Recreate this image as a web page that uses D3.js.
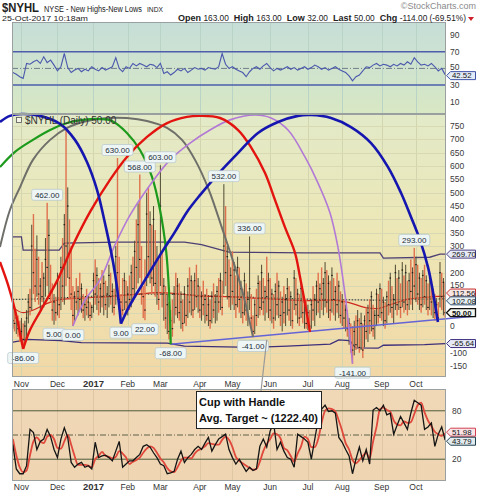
<!DOCTYPE html>
<html><head><meta charset="utf-8">
<script src="https://cdn.jsdelivr.net/npm/d3@7/dist/d3.min.js"></script>
<style>html,body{margin:0;padding:0;background:#fff;}svg{display:block;}</style>
</head><body>
<svg id="chart" width="478" height="493" font-family="'Liberation Sans', Arial, sans-serif"></svg>
<script>
// ================= DATA =================
const startDate = "2016-10-25", endDate = "2017-10-25";
const holidays = ["2016-11-24","2016-12-26","2017-01-02","2017-01-16","2017-02-20","2017-04-14","2017-05-29","2017-07-04","2017-09-04"];
const monthNames = ["Jan","Feb","Mar","Apr","May","Jun","Jul","Aug","Sep","Oct","Nov","Dec"];

const high = [
80,60,50,40,20,30,10,20,60,120,
140,380,420,290,340,260,180,240,200,330,
462,400,230,160,120,110,200,170,260,330,
420,740,520,400,300,150,130,180,150,200,
160,120,100,140,110,90,80,200,250,220,
180,160,210,190,170,150,230,200,160,140,
300,630,260,120,180,200,170,150,190,230,
260,320,400,460,568,300,150,250,500,520,
430,380,450,360,300,250,603,280,180,150,
120,90,60,100,150,200,180,160,130,100,
150,120,180,220,190,170,200,230,180,150,
130,170,120,140,110,100,130,160,120,150,
180,200,170,532,450,300,250,220,280,240,
190,260,220,170,140,200,160,130,336,120,
40,100,140,190,170,230,180,150,260,200,
180,140,120,160,200,170,130,110,150,120,
180,150,130,100,210,180,140,120,160,130,
110,100,80,60,100,150,120,170,200,160,
220,180,240,210,190,170,220,180,150,200,
170,130,120,100,80,60,30,10,0,20,
40,60,30,50,10,40,70,80,100,130,
80,60,140,120,160,140,110,90,130,170,
200,150,120,230,180,210,160,240,190,230,
170,200,250,220,293,260,230,200,180,210,
230,190,160,200,170,140,120,100,90,240,
200,180,163];
const low = [
-10,-20,-30,-40,-60,-70,-86,-60,-50,10,
40,60,120,90,110,80,60,90,70,110,
150,120,90,20,5,20,40,30,60,90,
80,150,180,100,60,0,20,60,40,60,
50,30,20,40,30,20,30,50,80,60,
40,50,70,40,60,30,70,80,50,40,
80,100,60,9,40,60,50,40,60,70,
90,110,140,160,180,80,30,22,150,180,
160,120,150,110,80,60,150,70,20,-10,
-30,-50,-68,-40,10,40,30,20,-10,-20,
10,0,30,50,40,30,60,70,50,30,
20,40,10,20,0,-10,10,30,10,20,
50,60,40,120,150,100,70,60,80,60,
30,70,50,30,10,40,20,0,60,-10,
-41,-30,0,30,40,60,40,20,50,30,
20,10,-10,20,40,30,0,-20,10,0,
40,20,0,-10,60,40,10,0,30,10,
-10,-10,-15,-22,-10,20,0,40,50,30,
60,40,70,50,30,20,50,40,20,50,
30,10,0,-10,-20,-40,-70,-100,-141,-110,
-90,-80,-100,-90,-120,-80,-50,-60,-30,-20,
-40,-50,0,10,30,20,0,-10,10,40,
50,30,10,60,40,60,30,70,50,60,
40,60,80,60,100,90,80,60,50,70,
80,60,40,60,40,30,20,25,20,70,
60,40,32];
const close = [
20,10,30,-10,-30,-20,-50,0,30,90,
70,300,200,150,250,120,150,110,180,250,
220,340,130,60,90,50,170,80,220,150,
380,300,450,180,120,40,110,90,130,100,
140,60,80,70,90,40,70,170,120,190,
90,140,110,160,80,120,190,110,130,70,
260,200,100,90,60,170,90,120,100,200,
140,280,220,380,250,120,110,60,420,260,
380,180,400,160,250,100,450,120,150,30,
80,-20,20,-10,120,70,150,50,90,10,
120,40,150,90,170,60,170,110,150,60,
110,80,100,40,80,20,110,60,90,130,
90,170,70,300,200,260,110,190,130,210,
80,220,100,140,50,170,60,100,140,30,
-20,80,40,160,70,200,90,130,110,170,
60,120,30,130,80,150,40,90,50,100,
140,60,110,20,180,80,120,30,140,50,
90,10,50,0,80,60,100,150,90,140,
120,160,200,90,160,60,190,100,130,80,
150,40,90,30,60,-10,10,-60,-90,-20,
-70,20,-80,10,-90,20,-20,50,20,110,
-10,40,120,40,140,50,90,20,110,80,
180,70,100,200,80,180,70,210,90,200,
80,170,130,200,150,230,120,180,80,190,
110,170,70,180,90,120,50,80,30,200,
110,164,50];
const lastOpen = 163;

// indicator values, one every second trading day
const rsi14 = [
45,43,40,38,56,55,58,60,56,64,
57,60,54,47,52,68,51,45,48,50,
46,49,47,52,49,47,51,48,50,52,
63,50,46,52,50,56,53,56,54,52,
55,54,51,56,44,46,42,45,49,47,
50,45,48,51,49,50,48,51,50,49,
52,68,55,50,52,49,47,45,40,46,
50,52,49,53,56,51,47,50,48,50,
52,49,51,48,50,52,49,51,54,52,
49,51,48,50,52,49,47,45,41,35,
40,42,47,52,51,54,56,53,55,54,
52,55,53,56,54,58,55,63,58,54,
55,53,56,52,47,50,42.52];
const stochK = [
38,8,2,2,12,57,53,32,42,45,
57,48,32,22,45,59,47,16,10,14,
16,10,12,8,41,22,24,25,22,18,
30,42,10,14,18,18,22,26,36,38,
35,28,22,14,12,2,3,5,20,30,
16,22,26,32,36,32,40,47,30,38,
45,48,51,32,22,14,20,12,5,10,
6,8,36,45,35,55,65,32,41,30,
22,20,10,51,48,45,41,20,45,69,
82,87,79,80,77,47,41,32,24,2,
20,35,18,32,14,81,84,80,87,75,
77,51,62,73,65,57,77,93,90,87,
57,60,65,36,51,60,43.79];
const stochD = [
45,25,10,4,6,25,42,47,42,40,
48,50,45,34,33,42,50,38,24,13,
13,13,12,10,20,24,29,24,23,21,
23,30,27,22,14,17,19,22,28,33,
36,34,28,21,16,9,5,4,10,18,
22,22,21,27,31,33,36,40,39,38,
38,44,48,44,35,23,18,15,12,9,
7,8,17,30,39,45,52,51,46,34,
31,24,17,27,36,48,45,35,35,45,
65,80,83,82,79,68,55,40,32,19,
15,19,24,28,21,42,60,82,84,81,
79,68,63,62,67,65,66,76,87,90,
78,68,61,54,51,49,51.98];

// overlays: [trading-day index, value]
const maRed = [[0,70],[6,50],[12,60],[20,85],[28,100],[40,105],[55,110],[70,118],[85,125],[95,122],[110,112],[125,110],[140,105],[155,100],[170,95],[185,97],[195,90],[205,70],[212,65],[220,80],[230,100],[240,108],[252,112.56]];
const maDotted = [[0,100],[20,103],[40,110],[60,115],[80,120],[100,118],[120,112],[140,108],[160,103],[180,100],[200,98],[215,97],[230,100],[252,102.08]];
const bandUpper = [[0,334],[5,334],[6,285],[27,285],[30,311],[60,315],[100,315],[110,305],[126,277],[170,274],[214,274],[216,255],[243,258],[249,270],[252,269.70]];
const bandLower = [[0,-60],[5,-55],[8,-50],[28,-55],[40,-62],[90,-64],[100,-75],[140,-80],[160,-75],[185,-68],[190,-52],[196,-55],[200,-82],[213,-83],[216,-72],[240,-70],[252,-65.64]];
const trendLine = [[92,-68],[270,38]];

// hand-drawn cycle arcs
const arcBlue1 = [[-7.5,765],[-1.7,788],[5.3,795],[15.8,788],[27.5,758],[36.2,698],[43.2,615],[49.1,510],[54.3,368],[58.4,240],[60.7,146],[63,9]];
const arcGreen = [[-7.5,596],[1.25,653],[11.7,698],[21.7,735],[31.6,761],[40.9,773],[50.8,776],[57.8,769],[66.5,724],[74.1,660],[81.1,559],[85.8,435],[89.3,285],[91,135],[92,-68]];
const arcGray = [[-7.5,296],[-1.7,435],[4.2,521],[11.7,623],[21.7,698],[31.6,743],[43.2,769],[54.9,780],[66.5,780],[78.2,769],[89.9,743],[98.6,698],[106.2,623],[114.3,510],[121.9,368],[127.8,255],[133.6,135],[140,-41]];
const arcRed1 = [[-7.5,240],[-2.8,154],[1.25,60],[6,-86]];
const arcRed2 = [[6,-86],[10,-15],[16.4,60],[26.3,176],[35.1,304],[45,428],[56.6,548],[66.5,634],[78.2,709],[89.9,761],[101.5,784],[109.1,788],[120.8,780],[131.3,735],[138.8,671],[147,574],[152.8,473],[158.6,371],[164.5,274],[167.4,184],[170.3,86],[173.2,-22]];
const arcViolet = [[35,0],[42.1,98],[50.8,173],[59.5,304],[68.3,416],[80,529],[91.6,623],[103.3,686],[114.9,735],[126.6,773],[141.1,791],[150.5,780],[160.4,735],[170.3,634],[177.9,536],[184.9,424],[189.5,296],[192.5,173],[195.4,23],[198,-141]];
const arcBlue2 = [[63,9],[68.3,79],[75.9,161],[85.8,266],[94.5,353],[101.5,428],[109.1,491],[120.8,578],[131.3,649],[142.9,724],[154.6,765],[166.2,788],[173.8,791],[185.5,780],[197.1,746],[208.8,686],[218.7,596],[226.3,499],[232.1,409],[237.3,323],[242,221],[244.9,128],[247.8,15]];

// annotated highs/lows: [index, "h" | "l"]
const peakLabels = [[6,"l"],[20,"h"],[24,"l"],[35,"l"],[61,"h"],[63,"l"],[74,"h"],[77,"l"],[86,"h"],[92,"l"],[123,"h"],[138,"h"],[140,"l"],[198,"l"],[234,"h"]];
const noteIndex = 148, noteValue = -52;
const noteLines = ["Cup with Handle", "Avg. Target ~ (1222.40)"];

const mainTicks = [750,700,650,600,550,500,450,400,350,300,250,200,150,100,50,0,-50,-100,-150];
const rsiTicks = [90,70,50,30,10];
const stochTicks = [80,20];

// ================= BUILD =================
const days = [];
for (let d = new Date(startDate + "T00:00:00Z"); d <= new Date(endDate + "T00:00:00Z"); d.setUTCDate(d.getUTCDate() + 1)) {
  const w = d.getUTCDay(), s = d.toISOString().slice(0, 10);
  if (w > 0 && w < 6 && !holidays.includes(s)) days.push(s);
}
const N = days.length;
const monthStarts = [];
days.forEach((s, i) => { if (i > 0 && s.slice(5, 7) !== days[i - 1].slice(5, 7)) monthStarts.push(i); });

const svg = d3.select("#chart");
const X0 = 12, X1 = 446;
const x = d3.scaleLinear().domain([-0.5, N - 0.5]).range([X0, X1]);
const P1 = {t: 22, b: 114}, P2 = {t: 114, b: 377}, P3 = {t: 389, b: 481};
const yR = d3.scaleLinear().domain([-5, 106]).range([P1.b, P1.t]);
const yM = d3.scaleLinear().domain([-191, 795]).range([P2.b, P2.t]);
const yS = d3.scaleLinear().domain([-7, 107]).range([P3.b, P3.t]);

const defs = svg.append("defs");
function grad(id, stops) {
  const g = defs.append("linearGradient").attr("id", id).attr("x1", 0).attr("y1", 0).attr("x2", 0).attr("y2", 1);
  stops.forEach(s => g.append("stop").attr("offset", s[0]).attr("stop-color", s[1]));
}
grad("gR", [[0, "#c6ded8"], [1, "#d8e8c4"]]);
grad("gM", [[0, "#e2eac8"], [0.45, "#ede7b6"], [1, "#f2d7a6"]]);
grad("gS", [[0, "#f0d7b6"], [1, "#efd5b2"]]);

[[P1, "url(#gR)"], [P2, "url(#gM)"], [P3, "url(#gS)"]].forEach(([p, f]) => {
  svg.append("rect").attr("x", X0).attr("y", p.t).attr("width", X1 - X0).attr("height", p.b - p.t).attr("fill", f);
});

// grid
const vg = svg.append("g");
monthStarts.forEach(i => {
  const xx = Math.round(x(i)) + 0.5;
  vg.append("line").attr("x1", xx).attr("x2", xx).attr("y1", P1.t).attr("y2", P1.b).attr("stroke", "#b9d3c6");
  vg.append("line").attr("x1", xx).attr("x2", xx).attr("y1", P2.t).attr("y2", P2.b).attr("stroke", "#d3d5ae");
  vg.append("line").attr("x1", xx).attr("x2", xx).attr("y1", P3.t).attr("y2", P3.b).attr("stroke", "#dfc7a4");
});
mainTicks.forEach(v => {
  const yy = Math.round(yM(v)) + 0.5;
  vg.append("line").attr("x1", X0).attr("x2", X1).attr("y1", yy).attr("y2", yy).attr("stroke", "#d8d9b2");
});

// ---------- RSI panel ----------
[70, 30].forEach(v => svg.append("line").attr("x1", X0).attr("x2", X1).attr("y1", yR(v)).attr("y2", yR(v)).attr("stroke", "#4d5cab").attr("stroke-width", 1.5));
svg.append("line").attr("x1", X0).attr("x2", X1).attr("y1", yR(50)).attr("y2", yR(50)).attr("stroke", "#5a6478").attr("stroke-width", 0.8).attr("stroke-dasharray", "6,2,1,2");
svg.append("path").datum(rsi14).attr("fill", "none").attr("stroke", "#4a58ad").attr("stroke-width", 1.1)
  .attr("d", d3.line().x((d, k) => x(2 * k)).y(d => yR(d)));

// ---------- Main panel ----------
const lineIV = d3.line().x(d => x(d[0])).y(d => yM(d[1]));
svg.append("path").datum(bandUpper).attr("fill", "none").attr("stroke", "#4c3f73").attr("stroke-width", 1.3).attr("d", lineIV);
svg.append("path").datum(bandLower).attr("fill", "none").attr("stroke", "#3d2f7a").attr("stroke-width", 1.3).attr("d", lineIV);
const lineSmooth = d3.line().x(d => x(d[0])).y(d => yM(d[1])).curve(d3.curveMonotoneX);
svg.append("path").datum(maDotted).attr("fill", "none").attr("stroke", "#222").attr("stroke-width", 1).attr("stroke-dasharray", "1.5,1.5").attr("d", lineSmooth);
svg.append("path").datum(maRed).attr("fill", "none").attr("stroke", "#cc2a1e").attr("stroke-width", 1.2).attr("d", lineSmooth);

// bars
const bars = svg.append("g");
for (let i = 0; i < N; i++) {
  const up = i > 0 ? close[i] >= close[i - 1] : true;
  const yh = yM(high[i]), yl = yM(low[i]);
  const h = Math.max(1, yl - yh);
  if (up) {
    bars.append("rect").attr("x", x(i) - 0.5).attr("width", 1).attr("y", yh).attr("height", h).attr("fill", "#4f4b33");
  } else {
    bars.append("rect").attr("x", x(i) - 0.7).attr("width", 1.4).attr("y", yh).attr("height", h).attr("fill", "#e0714e");
  }
  bars.append("rect").attr("x", x(i) - 0.8).attr("width", 1.6).attr("y", yM(close[i]) - 0.5).attr("height", 1).attr("fill", "#111");
}

// trend line
svg.append("path").datum(trendLine).attr("fill", "none").attr("stroke", "#6464d6").attr("stroke-width", 1.5).attr("d", lineIV);

// arcs
const arcLine = d3.line().x(d => x(d[0])).y(d => yM(d[1])).curve(d3.curveCatmullRom.alpha(0.5));
[[arcGray, "#6f6f6a", 2], [arcGreen, "#1c9a1c", 2.2], [arcViolet, "#b27ad6", 1.6], [arcRed1, "#e3140f", 2.4], [arcRed2, "#e3140f", 2.4], [arcBlue1, "#1515b0", 2.6], [arcBlue2, "#1515b0", 2.6]]
  .forEach(([pts, c, w]) => svg.append("path").datum(pts).attr("fill", "none").attr("stroke", c).attr("stroke-width", w).attr("d", arcLine));

// peak labels
const lab = svg.append("g").attr("font-size", 8).attr("fill", "#1d2d3a");
peakLabels.forEach(([i, t]) => {
  const v = t === "h" ? high[i] : low[i];
  const txt = v.toFixed(2);
  const cy = t === "h" ? yM(v) - 8 : yM(v) + 9;
  const w = txt.length * 4.5 + 4;
  lab.append("rect").attr("x", x(i) - w / 2).attr("y", cy - 5.5).attr("width", w).attr("height", 11).attr("rx", 2)
    .attr("fill", "#eef5f5").attr("stroke", "#b4c6cc").attr("stroke-width", 0.7);
  lab.append("text").attr("x", x(i)).attr("y", cy + 3).attr("text-anchor", "middle").text(txt);
});

// legend
svg.append("rect").attr("x", 16.5).attr("y", 117.5).attr("width", 5).attr("height", 5).attr("fill", "#f4f4e8").attr("stroke", "#555").attr("stroke-width", 0.8);
svg.append("text").attr("x", 25).attr("y", 124).attr("font-size", 10).attr("fill", "#333").text("$NYHL (Daily) " + close[N - 1].toFixed(2));

// ---------- Stoch panel ----------
[80, 20].forEach(v => svg.append("line").attr("x1", X0).attr("x2", X1).attr("y1", yS(v)).attr("y2", yS(v)).attr("stroke", "#4f5d3a"));
svg.append("line").attr("x1", X0).attr("x2", X1).attr("y1", yS(50)).attr("y2", yS(50)).attr("stroke", "#4f5540").attr("stroke-width", 0.9).attr("stroke-dasharray", "6,2,1,2");
svg.append("path").datum(stochD).attr("fill", "none").attr("stroke", "#e0483c").attr("stroke-width", 1.8)
  .attr("d", d3.line().x((d, k) => x(2 * k)).y(d => yS(d)).curve(d3.curveMonotoneX));
svg.append("path").datum(stochK).attr("fill", "none").attr("stroke", "#151515").attr("stroke-width", 1.3)
  .attr("d", d3.line().x((d, k) => x(2 * k)).y(d => yS(d)));

// note
const nx = 196, ny = 391;
svg.append("line").attr("x1", 261).attr("y1", ny).attr("x2", x(noteIndex)).attr("y2", yM(noteValue)).attr("stroke", "#9a9a9a").attr("stroke-width", 1.2);
svg.append("rect").attr("x", nx + 0.5).attr("y", ny + 0.5).attr("width", 125).attr("height", 37).attr("fill", "#fff").attr("stroke", "#222");
noteLines.forEach((t, k) => svg.append("text").attr("x", nx + 3).attr("y", ny + 15 + k * 16).attr("font-size", 11).attr("font-weight", "bold").attr("fill", "#111").text(t));

// panel borders
[P1, P2, P3].forEach(p => svg.append("rect").attr("x", X0 + 0.5).attr("y", p.t + 0.5).attr("width", X1 - X0 - 1).attr("height", p.b - p.t - 1).attr("fill", "none").attr("stroke", "#9aa0a0"));

// ---------- value tags ----------
const tags = [
  {y: yR(rsi14[rsi14.length - 1]) + 1, v: rsi14[rsi14.length - 1], s: "#3f55a8", f: "#e3ebf6"},
  {y: yM(bandUpper[bandUpper.length - 1][1]), v: bandUpper[bandUpper.length - 1][1], s: "#4c3f80", f: "#e6eaf6"},
  {y: yM(maRed[maRed.length - 1][1]) - 3, v: maRed[maRed.length - 1][1], s: "#c83030", f: "#f6e6e4"},
  {y: yM(maDotted[maDotted.length - 1][1]) + 2, v: maDotted[maDotted.length - 1][1], s: "#2f4f6f", f: "#e4eef2"},
  {y: yM(close[N - 1]), v: close[N - 1], s: "#111", f: "#f2f6ee", b: true},
  {y: yM(bandLower[bandLower.length - 1][1]), v: bandLower[bandLower.length - 1][1], s: "#3d2f80", f: "#e6eaf6"},
  {y: yS(stochD[stochD.length - 1]) - 1.2, v: stochD[stochD.length - 1], s: "#d04050", f: "#f8e4e6"},
  {y: yS(stochK[stochK.length - 1]) + 1.2, v: stochK[stochK.length - 1], s: "#1f3f4f", f: "#e2ecee"}
];

// axes labels (ticks that sit behind a value tag are not shown, as in the original)
const axg = svg.append("g").attr("font-size", 8.5).attr("fill", "#3a3a3a");
const hidden = yy => tags.some(t => Math.abs(t.y - yy) < 5.6);
rsiTicks.forEach(v => axg.append("text").attr("x", 450).attr("y", yR(v) + (v === 50 ? 2 : 3)).text(v));
mainTicks.filter(v => !hidden(yM(v))).forEach(v => axg.append("text").attr("x", 450).attr("y", yM(v) + (v === 150 ? 2.3 : 3)).text(v));
stochTicks.forEach(v => axg.append("text").attr("x", 452).attr("y", yS(v) + 3).text(v));

[387, 490].forEach(yy => {
  monthStarts.forEach(i => {
    const m = +days[i].slice(5, 7) - 1;
    const isYear = m === 0;
    axg.append("text").attr("x", x(i)).attr("y", yy).attr("text-anchor", "middle")
      .attr("font-size", isYear ? 9.5 : 8.5).attr("font-weight", isYear ? "bold" : "normal").attr("fill", "#333")
      .text(isYear ? days[i].slice(0, 4) : monthNames[m]);
  });
});

tags.forEach(t => {
  const g = svg.append("g");
  const x0 = 446.5, yy = t.y;
  g.append("path").attr("d", `M${x0},${yy} L${x0 + 4},${yy - 4} L${x0 + 29},${yy - 4} L${x0 + 29},${yy + 4} L${x0 + 4},${yy + 4} Z`)
    .attr("fill", t.f).attr("stroke", t.s).attr("stroke-width", t.b ? 1.3 : 1);
  g.append("text").attr("x", x0 + 5.5).attr("y", yy + 2.8).attr("font-size", 7.8).attr("font-weight", t.b ? "bold" : "normal").attr("fill", "#111").text(t.v.toFixed(2));
});

// ---------- header ----------
const hdr = svg.append("g").attr("fill", "#222");
// fit a text into a given width by horizontal scaling
function fitText(xPos, yPos, width, size, weight, txt) {
  const g = hdr.append("g");
  const t = g.append("text").attr("x", 0).attr("y", 0).attr("font-size", size).attr("font-weight", weight).text(txt);
  const w = t.node().getComputedTextLength();
  g.attr("transform", `translate(${xPos},${yPos}) scale(${width / w},1)`);
}
fitText(2, 11.5, 37, 12, "bold", "$NYHL");
fitText(44, 11.5, 98, 9.5, "normal", "NYSE - New Highs-New Lows");
fitText(147, 11.5, 16, 7, "normal", "INDX");
hdr.append("text").attr("x", 476).attr("y", 9).attr("text-anchor", "end").attr("font-size", 9).attr("fill", "#8a8a8a").text("\u00A9StockCharts.com");
fitText(2, 21.3, 86, 7.8, "normal", "25-Oct-2017 10:18am");
const chg = close[N - 1] - close[N - 2];
const pct = chg / close[N - 2] * 100;
const t2 = hdr.append("text").attr("x", 466).attr("y", 21).attr("text-anchor", "end");
[["Open", lastOpen.toFixed(2)], ["High", high[N - 1].toFixed(2)], ["Low", low[N - 1].toFixed(2)], ["Last", close[N - 1].toFixed(2)], ["Chg", chg.toFixed(2) + " (" + pct.toFixed(2) + "%)"]]
  .forEach(([a, b], k) => {
    t2.append("tspan").attr("font-weight", "bold").attr("font-size", 9).text((k ? "\u00A0\u00A0" : "") + a + "\u00A0");
    t2.append("tspan").attr("font-size", 8.3).text(b);
  });
svg.append("path").attr("d", "M468,17 L474,17 L471,21 Z").attr("fill", "#d0202a");
</script>
</body></html>
